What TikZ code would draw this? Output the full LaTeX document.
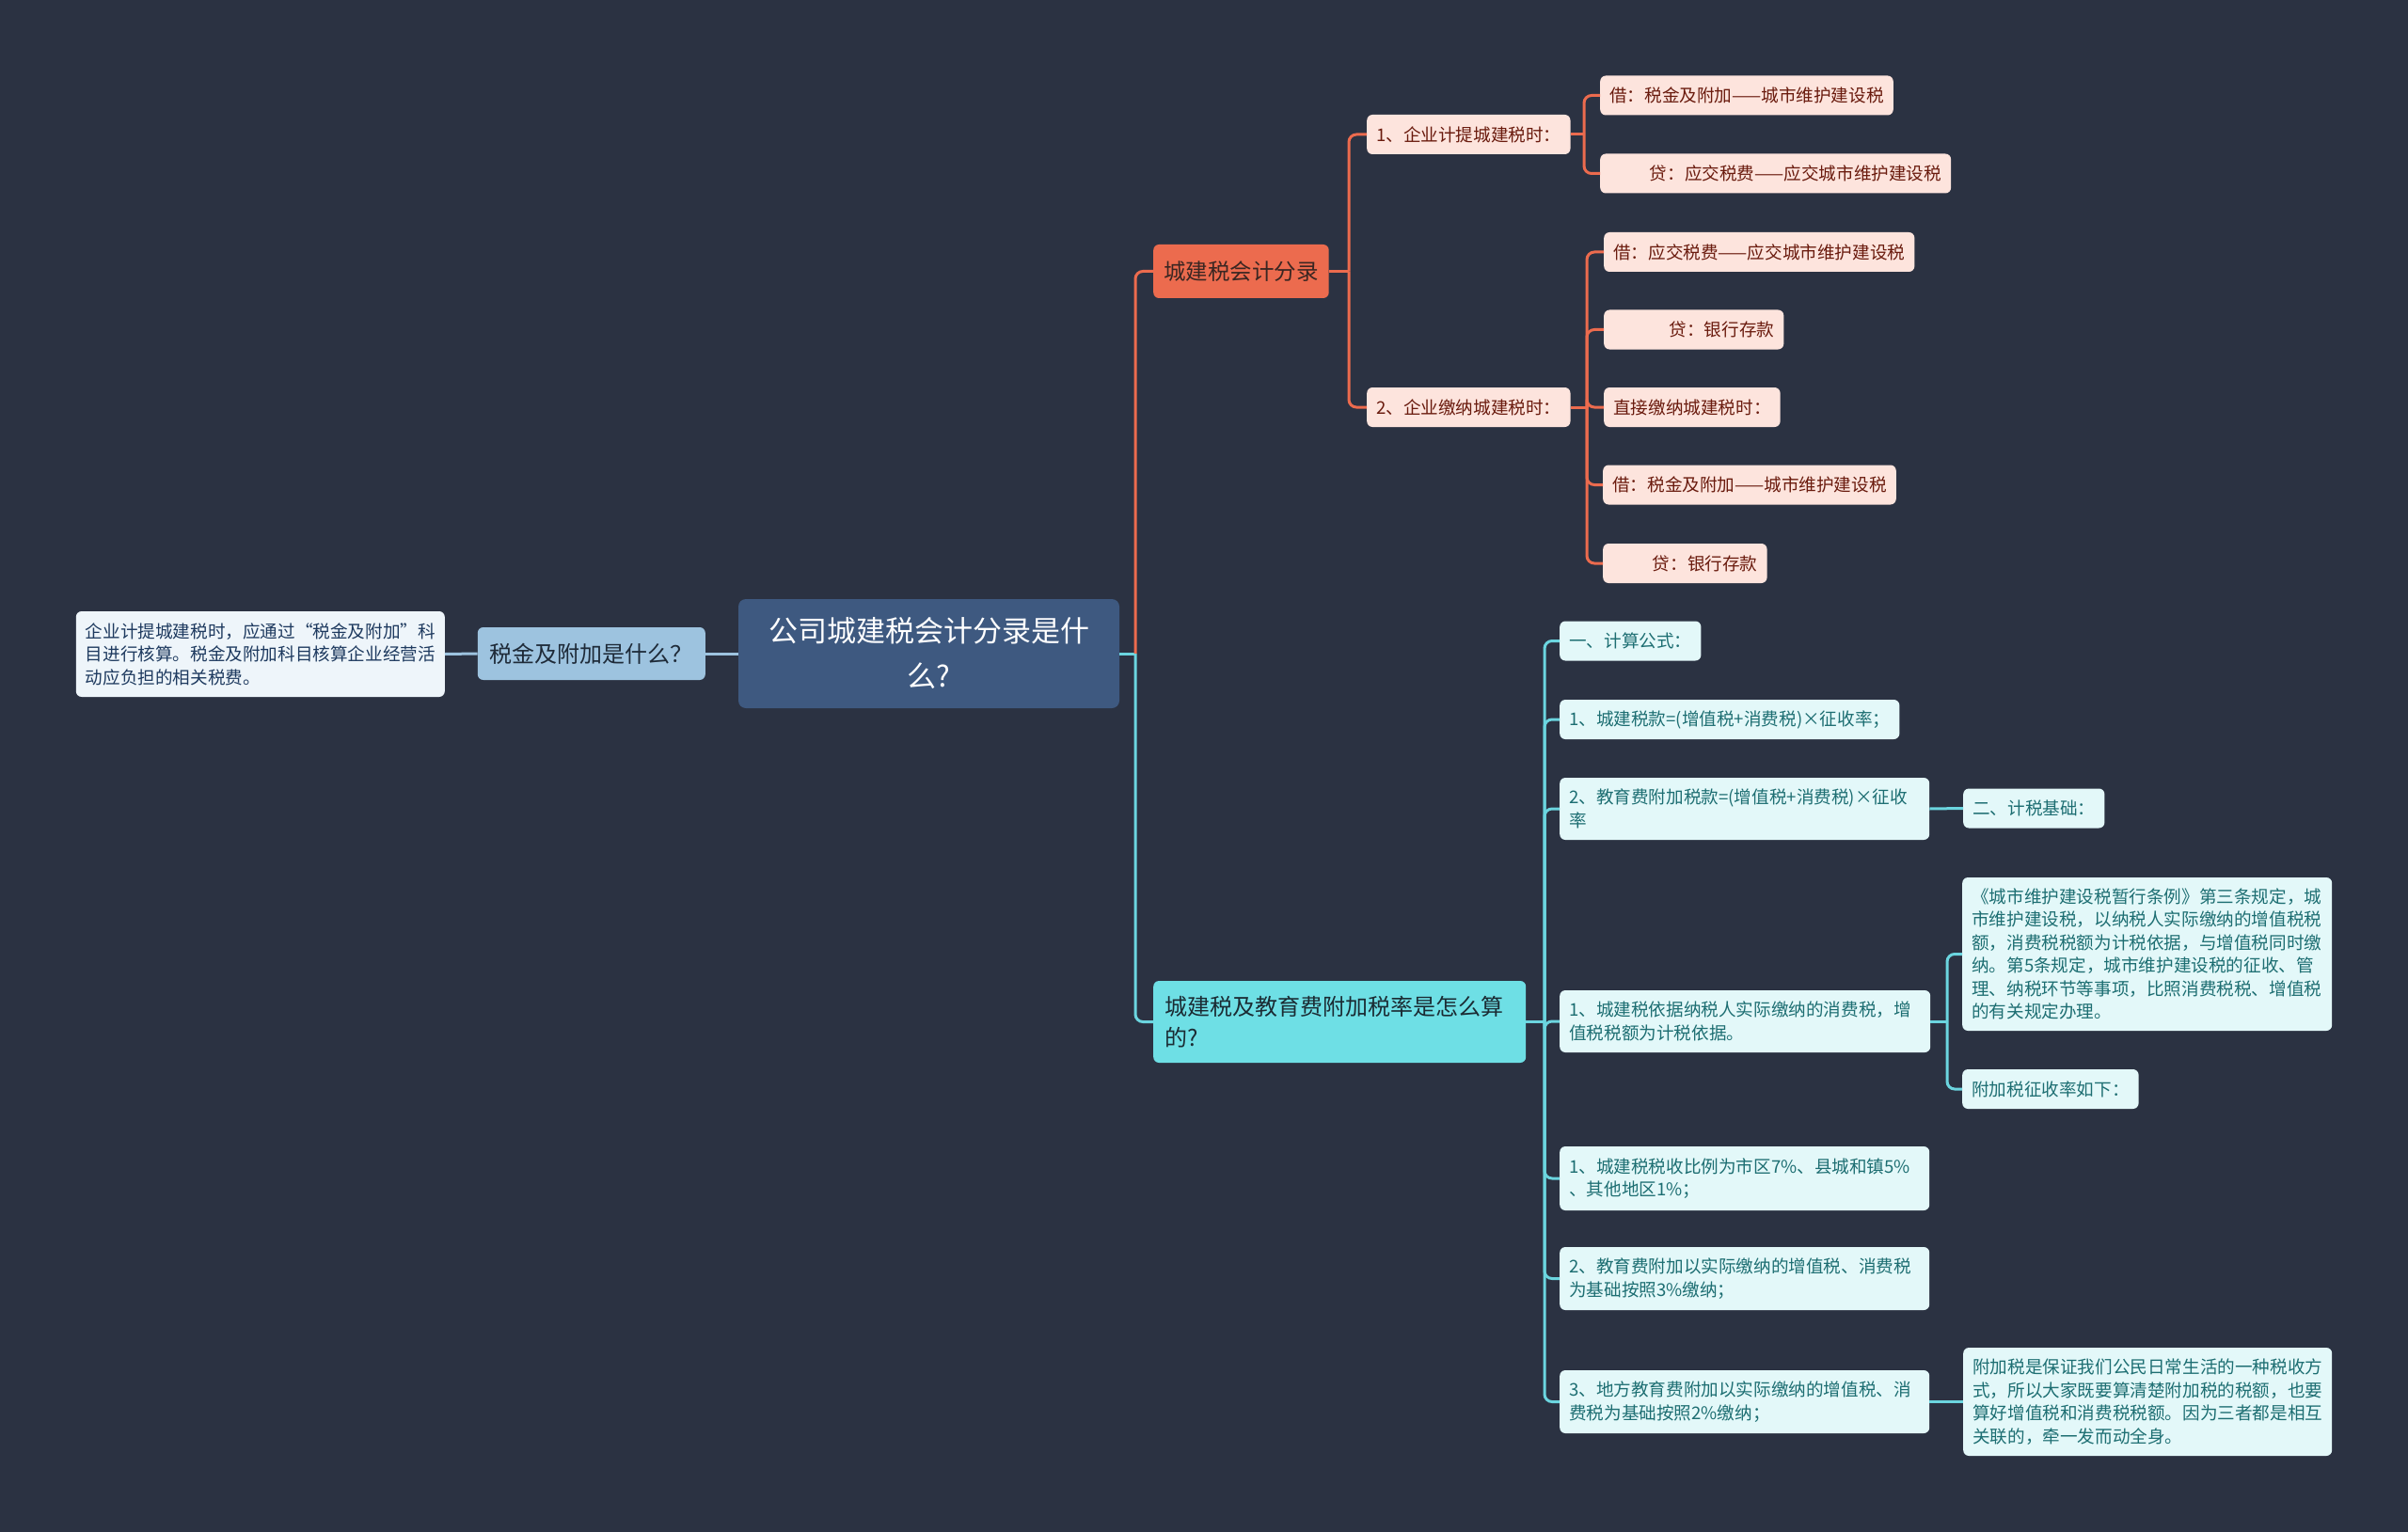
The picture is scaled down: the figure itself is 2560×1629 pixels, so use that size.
\documentclass[tikz,border=0pt]{standalone}
\usepackage{fontspec}
\setmainfont{Noto Sans CJK SC}

\definecolor{bgdark}{HTML}{2B3242}
\definecolor{rootblue}{HTML}{3E5980}
\definecolor{askblue}{HTML}{9DC3DF}
\definecolor{asktext}{HTML}{1E2A38}
\definecolor{notefill}{HTML}{EEF5FA}
\definecolor{notetext}{HTML}{1E3A5F}
\definecolor{coral}{HTML}{EC6B4E}
\definecolor{coraltext}{HTML}{3A2622}
\definecolor{peach}{HTML}{FDE4DD}
\definecolor{peachtext}{HTML}{6A1B0E}
\definecolor{aqua}{HTML}{6EDFE5}
\definecolor{aquatext}{HTML}{1B2B33}
\definecolor{mint}{HTML}{E3F8F9}
\definecolor{minttext}{HTML}{1D6E72}
\definecolor{aqualine}{HTML}{6BD5DF}

\tikzset{
  box/.style={anchor=west, rounded corners=6, inner xsep=10, inner ysep=4, align=left,
    font=\fontsize{18.6}{24.5}\selectfont, minimum height=42},
  rootbox/.style={box, anchor=center, align=center, fill=rootblue, text=white,
    rounded corners=8, minimum width=405, minimum height=116,
    font=\fontsize{31}{48}\selectfont},
  askbox/.style={box, anchor=east, fill=askblue, text=asktext, inner xsep=13,
    minimum height=56, font=\fontsize{24}{33}\selectfont},
  notebox/.style={box, anchor=east, fill=notefill, text=notetext, minimum height=91},
  mainR/.style={box, fill=coral, text=coraltext, inner xsep=11, minimum height=57,
    font=\fontsize{23.5}{33}\selectfont},
  mainC/.style={box, fill=aqua, text=aquatext, inner xsep=12, text width=372,
    minimum height=87, font=\fontsize{24}{33}\selectfont},
  leafR/.style={box, fill=peach, text=peachtext},
  leafC/.style={box, fill=mint, text=minttext},
  lineR/.style={draw=coral, line width=3, rounded corners=8},
  lineC/.style={draw=aqualine, line width=3, rounded corners=8},
  lineL/.style={draw=askblue, line width=3},
}

\begin{document}
\begin{tikzpicture}[x=1pt,y=-1pt]
  \fill[bgdark] (0,0) rectangle (2560,1629);
  \useasboundingbox (0,0) rectangle (2560,1629);

  % centre and left side
  \node[rootbox] (root) at (987.5,695) {公司城建税会计分录是什\\么?};
  \node[askbox] (ask) at (750,695) {税金及附加是什么？};
  \node[notebox] (note) at (473,695.5) {企业计提城建税时，应通过“税金及附加”科\\目进行核算。税金及附加科目核算企业经营活\\动应负担的相关税费。};

  % accounting entries
  \node[mainR] (cj) at (1226,288.5) {城建税会计分录};
  \node[leafR] (r1) at (1453,143) {1、企业计提城建税时：};
  \node[leafR] (r2) at (1453,433) {2、企业缴纳城建税时：};
  \node[leafR] (r11) at (1701,101.5) {借：税金及附加——城市维护建设税};
  \node[leafR] (r12) at (1701,184.5) {\hspace*{2.3em}贷：应交税费——应交城市维护建设税};
  \node[leafR] (r21) at (1705,268) {借：应交税费——应交城市维护建设税};
  \node[leafR] (r22) at (1705,350.5) {\hspace*{3.2em}贷：银行存款};
  \node[leafR] (r23) at (1705,433) {直接缴纳城建税时：};
  \node[leafR] (r24) at (1704,515.5) {借：税金及附加——城市维护建设税};
  \node[leafR] (r25) at (1704,599) {\hspace*{2.3em}贷：银行存款};

  % tax rates
  \node[mainC] (cs) at (1226,1086.5) {城建税及教育费附加税率是怎么算\\的?};
  \node[leafC] (c1) at (1658,681.5) {一、计算公式：};
  \node[leafC] (c2) at (1658,765) {1、城建税款=(增值税+消费税)×征收率；};
  \node[leafC, minimum height=66, text width=373] (c3) at (1658,860) {2、教育费附加税款=(增值税+消费税)×征收\\率};
  \node[leafC] (c31) at (2087,859.5) {二、计税基础：};
  \node[leafC, minimum height=66, text width=374] (c4) at (1658,1086) {1、城建税依据纳税人实际缴纳的消费税，增\\值税税额为计税依据。};
  \node[leafC, minimum height=163, text width=373] (c41) at (2086,1014.5) {《城市维护建设税暂行条例》第三条规定，城\\市维护建设税，以纳税人实际缴纳的增值税税\\额，消费税税额为计税依据，与增值税同时缴\\纳。第5条规定，城市维护建设税的征收、管\\理、纳税环节等事项，比照消费税税、增值税\\的有关规定办理。};
  \node[leafC] (c42) at (2086,1158) {附加税征收率如下：};
  \node[leafC, minimum height=68, text width=373] (c5) at (1658,1253) {1、城建税税收比例为市区7\%、县城和镇5\%\\、其他地区1\%；};
  \node[leafC, minimum height=67, text width=373] (c6) at (1658,1359.5) {2、教育费附加以实际缴纳的增值税、消费税\\为基础按照3\%缴纳；};
  \node[leafC, minimum height=67, text width=373] (c7) at (1658,1490.5) {3、地方教育费附加以实际缴纳的增值税、消\\费税为基础按照2\%缴纳；};
  \node[leafC, minimum height=115, text width=372] (c71) at (2087,1490.5) {附加税是保证我们公民日常生活的一种税收方\\式，所以大家既要算清楚附加税的税额，也要\\算好增值税和消费税税额。因为三者都是相互\\关联的，牵一发而动全身。};

  % junctions
  \coordinate (j0) at (1207,695);
  \coordinate (jR) at (1434,288.5);
  \coordinate (jR1) at (1684,143);
  \coordinate (jR2) at (1687,433);
  \coordinate (jC) at (1642,1086.5);
  \coordinate (jC4) at (2070,1086);

  % connectors
  \draw[lineL] (root.west) -- (ask.east);
  \draw[lineL] (ask.west) -- (note.east);
  \draw[lineC] (root.east) -- (j0);
  \draw[lineR] (j0) |- (cj.west);
  \draw[lineC] (j0) |- (cs.west);

  \draw[lineR] (cj.east) -- (jR);
  \foreach \n in {r1,r2}
    \draw[lineR] (jR) |- (\n.west);
  \draw[lineR] (r1.east) -- (jR1);
  \foreach \n in {r11,r12}
    \draw[lineR] (jR1) |- (\n.west);
  \draw[lineR] (r2.east) -- (jR2);
  \foreach \n in {r21,r22,r23,r24,r25}
    \draw[lineR] (jR2) |- (\n.west);

  \draw[lineC] (cs.east) -- (jC);
  \foreach \n in {c1,c2,c3,c4,c5,c6,c7}
    \draw[lineC] (jC) |- (\n.west);
  \draw[lineC] (c3.east) -- (c31.west);
  \draw[lineC] (c4.east) -- (jC4);
  \foreach \n in {c41,c42}
    \draw[lineC] (jC4) |- (\n.west);
  \draw[lineC] (c7.east) -- (c71.west);
\end{tikzpicture}
\end{document}
